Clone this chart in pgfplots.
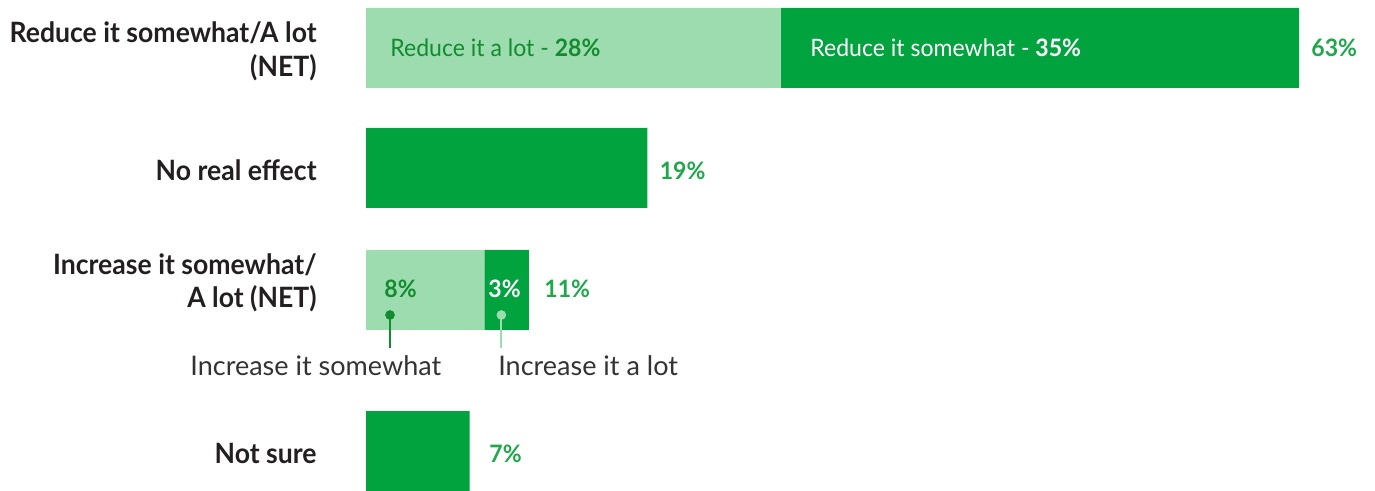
\documentclass[border=0pt]{standalone}
\usepackage{fontspec}
\setmainfont{Lato}
\usepackage{graphicx}
\usepackage{pgfplots}
\pgfplotsset{compat=1.18}
\definecolor{darkg}{HTML}{00A33E}
\definecolor{lightg}{HTML}{9CDCAF}
\definecolor{pctg}{HTML}{1FA84A}
\definecolor{intext}{HTML}{128C2E}
\definecolor{cat}{HTML}{231F20}
\definecolor{anno}{HTML}{333333}
\pgfplotsset{base/.style={
  at={(0,0)}, anchor=south west,
  scale only axis, width=687.5pt, height=245.5pt,
  xmin=-24.714, xmax=68.131, ymin=0, ymax=491, y dir=reverse,
  axis lines=none, clip=false}}
\newcommand{\catf}[1]{\fontsize{14pt}{17pt}\selectfont\bfseries\scalebox{0.95}[1]{#1}}
\newcommand{\barf}[1]{\fontsize{12pt}{14pt}\selectfont\scalebox{0.96}[1]{#1}}
\begin{document}
\begin{tikzpicture}
\begin{axis}[base, xbar stacked, bar width=80]
\addplot[fill=lightg, draw=none] coordinates {(28,48) (0,168) (8,290) (0,451)};
\addplot[fill=darkg, draw=none] coordinates {(35,48) (19,168) (3,290) (7,451)};
\end{axis}
\begin{axis}[base]
% category labels
\begin{scope}[every node/.style={text=cat, anchor=base east, inner sep=0pt}]
\node at (axis cs:-3.31,43) {\catf{Reduce it somewhat/A lot}};
\node at (axis cs:-3.31,77) {\catf{(NET)}};
\node at (axis cs:-3.31,181) {\catf{No real effect}};
\node at (axis cs:-3.31,275) {\catf{Increase it somewhat/}};
\node at (axis cs:-3.31,308) {\catf{A lot (NET)}};
\node at (axis cs:-3.31,463) {\catf{Not sure}};
\end{scope}
% in-bar and value labels
\begin{scope}[every node/.style={anchor=base west, inner sep=0pt}]
\node[text=intext] at (axis cs:1.62,57) {\barf{Reduce it a lot - \textbf{28\%}}};
\node[text=white] at (axis cs:29.98,57) {\barf{Reduce it somewhat - \textbf{35\%}}};
\node[text=pctg] at (axis cs:63.81,57) {\barf{\bfseries 63\%}};
\node[text=pctg] at (axis cs:19.81,180) {\barf{\bfseries 19\%}};
\node[text=intext] at (axis cs:1.22,298) {\barf{\bfseries 8\%}};
\node[text=white] at (axis cs:8.24,298) {\barf{\bfseries 3\%}};
\node[text=pctg] at (axis cs:12.02,298) {\barf{\bfseries 11\%}};
\node[text=pctg] at (axis cs:8.31,462) {\barf{\bfseries 7\%}};
\end{scope}
% callouts
\draw[intext, line width=1pt] (axis cs:1.62,315) -- (axis cs:1.62,348);
\draw[lightg, line width=1pt] (axis cs:9.14,315) -- (axis cs:9.14,348);
\addplot[only marks, mark=*, mark size=2.2pt, color=intext] coordinates {(1.62,315)};
\addplot[only marks, mark=*, mark size=2.2pt, color=lightg] coordinates {(9.14,315)};
\node[anchor=base west, inner sep=0pt, text=anno, font=\fontsize{13.5pt}{16pt}\selectfont] at (axis cs:-11.88,376) {Increase it somewhat};
\node[anchor=base west, inner sep=0pt, text=anno, font=\fontsize{13.5pt}{16pt}\selectfont] at (axis cs:8.91,376) {Increase it a lot};
\end{axis}
\pgfresetboundingbox
\path[use as bounding box] (0,0) rectangle (687.5pt,245.5pt);
\end{tikzpicture}
\end{document}
